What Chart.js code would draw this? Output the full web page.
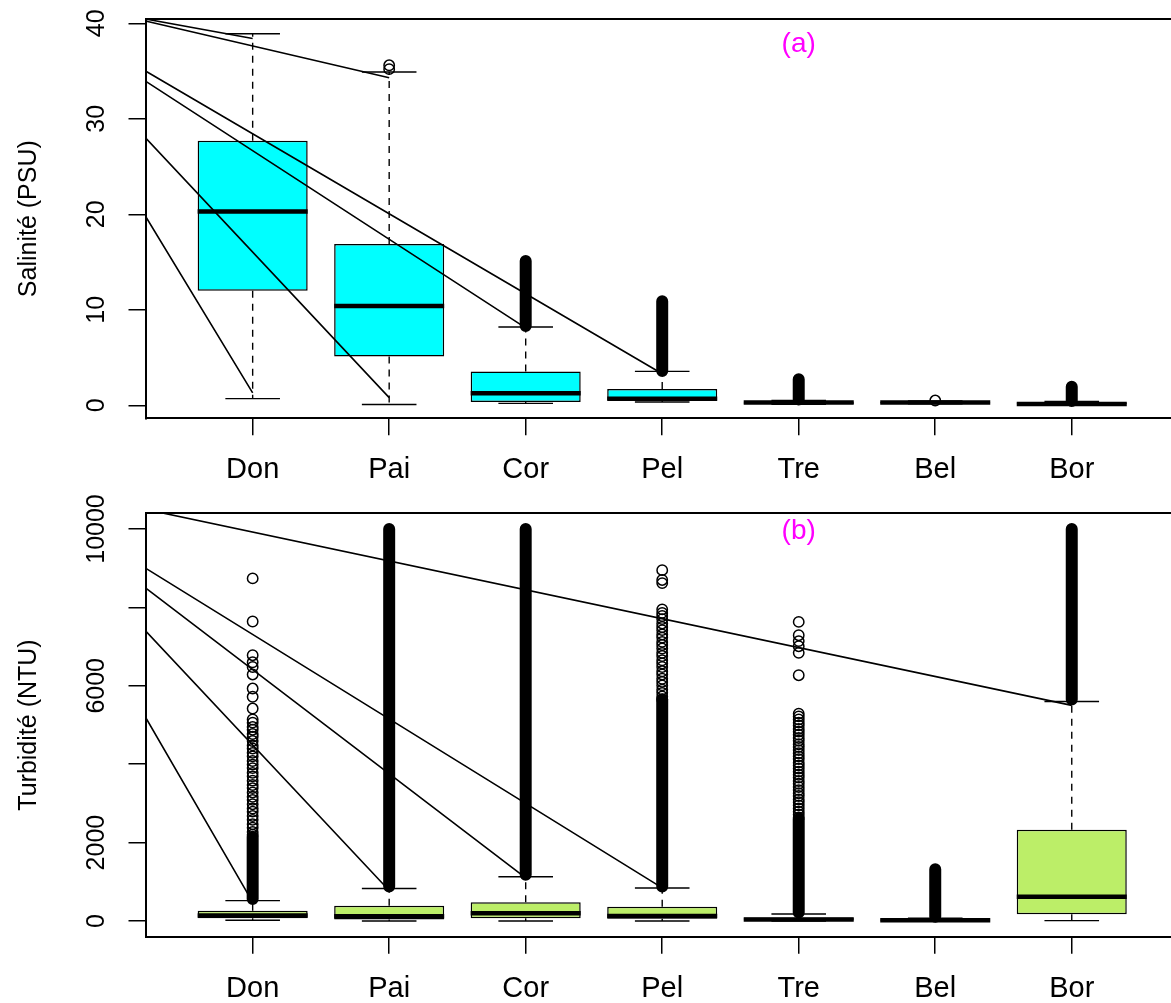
<!DOCTYPE html>
<html>
<head>
<meta charset="utf-8">
<title>Salinité et turbidité par station</title>
<script src="https://cdn.jsdelivr.net/npm/chart.js@4.4.1/dist/chart.umd.min.js"></script>
<style>
  html, body { margin: 0; padding: 0; background: #fff; overflow: hidden; }
  canvas { position: absolute; left: 0; }
  #panelA { top: 0; }
  #panelB { top: 490px; }
</style>
</head>
<body>
<canvas id="panelA" width="1171" height="490"></canvas>
<canvas id="panelB" width="1171" height="513"></canvas>
<script>
// stations along the river
const stations = ['Don', 'Pai', 'Cor', 'Pel', 'Tre', 'Bel', 'Bor'];

// (a) salinité (PSU) - box statistics
const salLow    = [0.7, 0.08, 0.2, 0.35, 0.1, 0.15, 0.05];
const salQ1     = [12.0, 5.1, 0.35, 0.52, 0.15, 0.2, 0.1];
const salMedian = [20.3, 10.4, 1.25, 0.7, 0.3, 0.3, 0.15];
const salQ3     = [27.7, 16.9, 3.55, 1.7, 0.4, 0.38, 0.3];
const salHigh   = [38.9, 34.9, 8.2, 3.55, 0.5, 0.45, 0.4];
// outliers so packed that the circles merge into a bar: [from, to]
const salDense = [null, null, [8.3, 15.1], [3.6, 10.9], [0.6, 2.74], null, [0.45, 1.95]];
// single outliers still visible as circles
const salOutliers = [[], [35.2, 35.6], [], [], [], [0.5], []];
// straight lines drawn from the left axis down to a station
const salLineStart = [40.45, 40.25, 35.0, 33.95, 28.0, 19.8];
const salLineTo    = ['Don', 'Pai', 'Pel', 'Cor', 'Pai', 'Don'];
const salLineEnd   = [38.4, 34.3, 3.3, 8.1, 0.8, 1.3];
const salTicks = [0, 10, 20, 30, 40];

// (b) turbidité (NTU) - box statistics
const turbLow    = [20, 0, 0, 0, 0, 0, 10];
const turbQ1     = [70, 40, 70, 55, 15, 5, 175];
const turbMedian = [140, 120, 200, 130, 40, 20, 620];
const turbQ3     = [265, 390, 480, 365, 90, 40, 2330];
const turbHigh   = [520, 830, 1130, 844, 180, 75, 5600];
const turbDense = [[560, 2150], [880, 10000], [1180, 10000], [880, 5650], [220, 2600], [110, 1320], [5650, 10000]];
const turbOutliers = [
  [8740, 7640, 6780, 6600, 6480, 6290, 5930, 5720, 5420, 5140, 5060, 4950, 4880, 4770, 4700, 4590,
   4480, 4400, 4290, 4200, 4080, 3990, 3900, 3780, 3690, 3580, 3470, 3390, 3280, 3170, 3090, 2980,
   2870, 2790, 2680, 2580, 2470, 2380, 2270, 2200],
  [],
  [],
  [8950, 8700, 8620, 7950, 7860, 7780, 7700, 7590, 7500, 7420, 7310, 7230, 7120, 7040, 6950, 6840,
   6760, 6650, 6570, 6480, 6370, 6290, 6180, 6100, 6010, 5900, 5820, 5730, 5660],
  [7630, 7290, 7140, 7010, 6840, 6270, 5290, 5220, 5140, 5060, 4990, 4900, 4830, 4750, 4670, 4600,
   4510, 4440, 4360, 4280, 4200, 4130, 4040, 3970, 3890, 3810, 3730, 3660, 3570, 3500, 3420, 3340,
   3260, 3190, 3100, 3030, 2950, 2870, 2790, 2720, 2640],
  [],
  []
];
const turbLineStart = [10500, 9000, 8500, 7400, 5200];
const turbLineTo    = ['Bor', 'Pel', 'Cor', 'Pai', 'Don'];
const turbLineEnd   = [5500, 844, 1100, 780, 480];
const turbTicks = [0, 2000, 4000, 6000, 8000, 10000];
const turbTickLabels = ['0', '2000', '', '6000', '', '10000'];

// x extent of the plot frame (station 1..7)
const X_MIN = 0.215;
const X_MAX = 7.727;
const FONT = '"Liberation Sans", Arial, Helvetica, sans-serif';

// list of [x1, y1, x2, y2] -> points with a gap after each segment
function segments(list) {
  const pts = [];
  list.forEach(s => {
    pts.push({ x: s[0], y: s[1] }, { x: s[2], y: s[3] }, { x: s[2], y: null });
  });
  return pts;
}

const lineBase = { type: 'line', pointRadius: 0, pointHitRadius: 0, fill: false, tension: 0, borderColor: '#000' };

function buildDatasets(p) {
  const half = 0.403, cap = 0.2;
  const whiskers = [], caps = [], medians = [], dense = [], outliers = [], lines = [];
  stations.forEach((s, i) => {
    const x = i + 1;
    whiskers.push([x, p.q3[i], x, p.high[i]], [x, p.q1[i], x, p.low[i]]);
    caps.push([x - cap, p.high[i], x + cap, p.high[i]], [x - cap, p.low[i], x + cap, p.low[i]]);
    medians.push([x - half, p.median[i], x + half, p.median[i]]);
    if (p.dense[i]) dense.push([x, p.dense[i][0], x, p.dense[i][1]]);
    p.outliers[i].forEach(v => outliers.push({ x: x, y: v }));
  });
  p.lineStart.forEach((v, k) => {
    lines.push([X_MIN, v, stations.indexOf(p.lineTo[k]) + 1, p.lineEnd[k]]);
  });

  return [
    {
      type: 'bar',
      data: stations.map((s, i) => ({ x: i + 1, y: [p.q1[i], p.q3[i]] })),
      backgroundColor: p.fill,
      borderColor: '#000',
      borderWidth: 1.5,
      borderSkipped: false,
      barPercentage: 0.806,
      categoryPercentage: 1,
      order: 6
    },
    Object.assign({}, lineBase, { data: segments(whiskers), borderWidth: 1.4, borderDash: [7, 6], order: 5 }),
    Object.assign({}, lineBase, { data: segments(caps), borderWidth: 1.4, order: 4 }),
    Object.assign({}, lineBase, { data: segments(medians), borderWidth: 4.5, order: 3 }),
    Object.assign({}, lineBase, { data: segments(dense), borderWidth: 12, borderCapStyle: 'round', order: 2 }),
    {
      type: 'scatter',
      data: outliers,
      pointStyle: 'circle',
      pointRadius: 5.2,
      pointBorderWidth: 1.5,
      pointBorderColor: '#000',
      pointBackgroundColor: 'rgba(0,0,0,0)',
      order: 1
    },
    Object.assign({}, lineBase, { data: segments(lines), borderWidth: 1.6, order: 0 })
  ];
}

// magenta panel tag, placed in data coordinates
const panelTag = {
  id: 'panelTag',
  afterDatasetsDraw(chart, args, opts) {
    const { ctx, scales } = chart;
    ctx.save();
    ctx.font = '28px ' + FONT;
    ctx.fillStyle = '#FF00FF';
    ctx.textAlign = 'center';
    ctx.textBaseline = 'middle';
    ctx.fillText(opts.text, scales.x.getPixelForValue(opts.x), scales.y.getPixelForValue(opts.y));
    ctx.restore();
  }
};

function makeChart(id, p) {
  return new Chart(document.getElementById(id), {
    type: 'bar',
    data: { datasets: buildDatasets(p) },
    plugins: [panelTag],
    options: {
      responsive: false,
      animation: false,
      events: [],
      layout: { autoPadding: false, padding: { top: p.padTop, left: 0, right: 0, bottom: 0 } },
      plugins: {
        legend: { display: false },
        tooltip: { enabled: false },
        panelTag: { text: p.tag, x: 5, y: p.tagY }
      },
      scales: {
        x: {
          type: 'linear',
          min: X_MIN,
          max: X_MAX,
          offset: false,
          afterBuildTicks: axis => { axis.ticks = stations.map((s, i) => ({ value: i + 1 })); },
          afterFit: axis => {
            axis.height = p.xHeight;
            axis.paddingLeft = 0;
            axis.paddingRight = 0;
          },
          ticks: {
            autoSkip: false,
            maxRotation: 0,
            padding: p.xPad,
            color: '#000',
            font: { family: FONT, size: 29 },
            callback: v => stations[v - 1]
          },
          grid: { offset: false, drawOnChartArea: false, tickLength: 17, color: '#000', lineWidth: 1.5 },
          border: { display: true, color: '#000', width: 2 }
        },
        xTop: {
          type: 'linear',
          position: 'top',
          min: X_MIN,
          max: X_MAX,
          afterFit: axis => { axis.height = 0; },
          ticks: { display: false },
          grid: { display: false },
          border: { display: true, color: '#000', width: 2 }
        },
        y: {
          min: p.yMin,
          max: p.yMax,
          afterBuildTicks: axis => { axis.ticks = p.ticks.map(v => ({ value: v })); },
          afterFit: axis => {
            axis.width = 145.5;
            axis.paddingTop = 0;
            axis.paddingBottom = 0;
          },
          ticks: {
            autoSkip: false,
            minRotation: 90,
            maxRotation: 90,
            crossAlign: 'center',
            padding: p.yPad,
            color: '#000',
            font: { family: FONT, size: 25 },
            callback: v => p.tickLabels[p.ticks.indexOf(v)]
          },
          grid: { drawOnChartArea: false, tickLength: 17, color: '#000', lineWidth: 1.5 },
          border: { display: true, color: '#000', width: 2 },
          title: {
            display: true,
            text: p.title,
            color: '#000',
            font: { family: FONT, size: 25 },
            padding: { top: 14, bottom: 0 }
          }
        }
      }
    }
  });
}

makeChart('panelA', {
  low: salLow, q1: salQ1, median: salMedian, q3: salQ3, high: salHigh,
  dense: salDense, outliers: salOutliers,
  lineStart: salLineStart, lineTo: salLineTo, lineEnd: salLineEnd,
  ticks: salTicks, tickLabels: salTicks.map(String),
  fill: '#00FFFF', title: 'Salinité (PSU)', tag: '(a)', tagY: 37.8,
  yMin: -1.36, yMax: 40.45, padTop: 19, xHeight: 71.7, xPad: 17, yPad: 17.6
});

makeChart('panelB', {
  low: turbLow, q1: turbQ1, median: turbMedian, q3: turbQ3, high: turbHigh,
  dense: turbDense, outliers: turbOutliers,
  lineStart: turbLineStart, lineTo: turbLineTo, lineEnd: turbLineEnd,
  ticks: turbTicks, tickLabels: turbTickLabels,
  fill: '#BCEE68', title: 'Turbidité (NTU)', tag: '(b)', tagY: 9946,
  yMin: -400, yMax: 10400, padTop: 23.3, xHeight: 66.3, xPad: 18, yPad: -3.3
});
</script>
</body>
</html>
